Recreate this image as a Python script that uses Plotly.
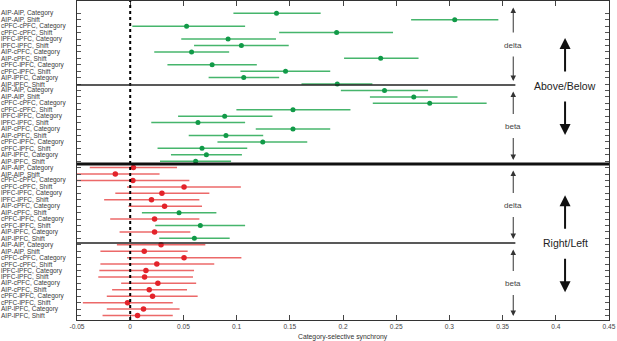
import plotly.graph_objects as go

# ---------------- data ----------------
pairs = ["AIP-AIP", "cPFC-cPFC", "lPFC-lPFC", "AIP-cPFC", "cPFC-lPFC", "AIP-lPFC"]
kinds = ["Category", "Shift"]
group_names = ["Above/Below delta", "Above/Below beta", "Right/Left delta", "Right/Left beta"]

ab_delta_est = [0.1375, 0.305, 0.053, 0.194, 0.092, 0.1045, 0.0577, 0.2354, 0.077, 0.146, 0.1067, 0.1946]
ab_delta_lo = [0.097, 0.264, 0.002, 0.140, 0.048, 0.060, 0.0226, 0.201, 0.035, 0.1036, 0.0737, 0.161]
ab_delta_hi = [0.179, 0.346, 0.108, 0.247, 0.137, 0.149, 0.093, 0.271, 0.119, 0.188, 0.140, 0.2276]

ab_beta_est = [0.239, 0.2665, 0.2815, 0.153, 0.0888, 0.0637, 0.153, 0.090, 0.1246, 0.0675, 0.0716, 0.0615]
ab_beta_lo = [0.198, 0.2253, 0.228, 0.0998, 0.045, 0.0198, 0.118, 0.055, 0.082, 0.0257, 0.0383, 0.028]
ab_beta_hi = [0.280, 0.3076, 0.335, 0.207, 0.1337, 0.108, 0.188, 0.125, 0.1664, 0.110, 0.105, 0.0948]

rl_delta_est = [0.003, -0.014, 0.0025, 0.0506, 0.0298, 0.020, 0.0323, 0.0459, 0.0229, 0.0659, 0.0229, 0.0603]
rl_delta_lo = [-0.038, -0.056, -0.052, -0.003, -0.014, -0.0245, -0.0016, 0.011, -0.0188, 0.0235, -0.010, 0.0273]
rl_delta_hi = [0.044, 0.0276, 0.0556, 0.104, 0.0744, 0.065, 0.0675, 0.081, 0.065, 0.108, 0.0565, 0.0935]

rl_beta_est = [0.029, 0.0132, 0.0506, 0.025, 0.0148, 0.0135, 0.026, 0.0179, 0.021, -0.0025, 0.0125, 0.0069]
rl_beta_lo = [-0.0125, -0.028, -0.003, -0.028, -0.029, -0.030, -0.0085, -0.017, -0.022, -0.0445, -0.022, -0.026]
rl_beta_hi = [0.0706, 0.054, 0.1045, 0.079, 0.060, 0.059, 0.062, 0.0534, 0.0634, 0.040, 0.0464, 0.040]

x_tickvals = [-0.05, 0, 0.05, 0.1, 0.15, 0.2, 0.25, 0.3, 0.35, 0.4, 0.45]
x_ticktext = ["-0.05", "0", "0.05", "0.1", "0.15", "0.2", "0.25", "0.3", "0.35", "0.4", "0.45"]

# ---------------- assemble ----------------
est = ab_delta_est + ab_beta_est + rl_delta_est + rl_beta_est
lo = ab_delta_lo + ab_beta_lo + rl_delta_lo + rl_beta_lo
hi = ab_delta_hi + ab_beta_hi + rl_delta_hi + rl_beta_hi
row_labels = [f"{p}, {k}" for _ in group_names for p in pairs for k in kinds]
rows = list(range(1, len(est) + 1))

GREEN_DOT, GREEN_LINE = "#119a48", "rgba(38,168,82,0.85)"
RED_DOT, RED_LINE = "#e3232a", "rgba(232,72,72,0.82)"
FONT = "Liberation Sans, Arial, sans-serif"

# pixel helpers for the layout (row k sits at 13.3 + (k-1)*6.43 px)
PLOT_TOP, PLOT_BOT = 1, 320
ROW0, ROWSTEP = 13.3, 6.43


def px2row(py):
    return 1 + (py - ROW0) / ROWSTEP


fig = go.Figure()

for sig, dot, line in [(True, GREEN_DOT, GREEN_LINE), (False, RED_DOT, RED_LINE)]:
    idx = [i for i in range(len(est)) if (lo[i] > 0) == sig]
    fig.add_trace(go.Scatter(
        x=[est[i] for i in idx],
        y=[rows[i] for i in idx],
        mode="markers",
        marker=dict(color=dot, size=5 if sig else 5.5),
        error_x=dict(type="data", symmetric=False,
                     array=[hi[i] - est[i] for i in idx],
                     arrayminus=[est[i] - lo[i] for i in idx],
                     color=line, thickness=1.5, width=0),
        showlegend=False,
        hoverinfo="skip",
    ))

shapes = [
    dict(type="line", xref="x", yref="paper", x0=0, x1=0, y0=0, y1=1,
         line=dict(color="black", width=2, dash="dot")),
    dict(type="line", xref="x", yref="y", x0=-0.05, x1=0.362, y0=px2row(85), y1=px2row(85),
         line=dict(color="#222", width=1.3)),
    dict(type="line", xref="paper", yref="y", x0=0, x1=1, y0=px2row(164), y1=px2row(164),
         line=dict(color="#111", width=3)),
    dict(type="line", xref="x", yref="y", x0=-0.05, x1=0.362, y0=px2row(243), y1=px2row(243),
         line=dict(color="#222", width=1.3)),
]

annotations = []
# left-aligned row labels
for r, lab in zip(rows, row_labels):
    annotations.append(dict(x=-77 / 532, xref="paper", y=r, yref="y", text=lab, showarrow=False,
                            xanchor="left", yanchor="middle", borderpad=0,
                            font=dict(family=FONT, size=6.5, color="#3a3a3a")))

# small band arrows
bands = [(PLOT_TOP, 85, "delta"), (85, 164, "beta"), (164, 243, "delta"), (243, PLOT_BOT, "beta")]
XA = 0.36
for top, bot, name in bands:
    mid = (top + bot) / 2 + 2
    annotations.append(dict(x=XA, y=px2row(mid), xref="x", yref="y", text=name, showarrow=False,
                            font=dict(family=FONT, size=8, color="#444")))
    annotations.append(dict(x=XA, y=px2row(top + 6.5), ax=XA, ay=px2row(mid - 11), xref="x", yref="y",
                            axref="x", ayref="y", text="", showarrow=True, arrowhead=2,
                            arrowsize=1.1, arrowwidth=1, arrowcolor="#333"))
    annotations.append(dict(x=XA, y=px2row(bot - 4), ax=XA, ay=px2row(mid + 10), xref="x", yref="y",
                            axref="x", ayref="y", text="", showarrow=True, arrowhead=2,
                            arrowsize=1.1, arrowwidth=1, arrowcolor="#333"))

# big arrows
XB = 0.4087
for center, name in [(86, "Above/Below"), (243.3, "Right/Left")]:
    annotations.append(dict(x=XB, y=px2row(center), xref="x", yref="y", text=name, showarrow=False,
                            font=dict(family=FONT, size=10.5, color="#222")))
    annotations.append(dict(x=XB, y=px2row(center - 48), ax=XB, ay=px2row(center - 13), xref="x",
                            yref="y", axref="x", ayref="y", text="", showarrow=True, arrowhead=2,
                            arrowsize=1.1, arrowwidth=2, arrowcolor="#111"))
    annotations.append(dict(x=XB, y=px2row(center + 49), ax=XB, ay=px2row(center + 14), xref="x",
                            yref="y", axref="x", ayref="y", text="", showarrow=True, arrowhead=2,
                            arrowsize=1.1, arrowwidth=2, arrowcolor="#111"))

# x title
annotations.append(dict(x=0.5, xref="paper", y=-17 / 319, yref="paper", text="Category-selective synchrony",
                        showarrow=False, xanchor="center", yanchor="middle",
                        font=dict(family=FONT, size=6.8, color="#333")))

fig.update_layout(
    width=617, height=341, autosize=False,
    margin=dict(l=77, r=8, t=PLOT_TOP, b=341 - PLOT_BOT, pad=0),
    paper_bgcolor="white", plot_bgcolor="white",
    font=dict(family=FONT, color="#333"),
    shapes=shapes, annotations=annotations,
    xaxis=dict(range=[-0.05, 0.45], tickvals=x_tickvals, ticktext=x_ticktext,
               ticks="inside", ticklen=5, tickcolor="#444", tickwidth=1,
               showline=True, linecolor="#333", linewidth=1, mirror="ticks",
               showgrid=False, zeroline=False,
               tickfont=dict(family=FONT, size=6.6, color="#444")),
    yaxis=dict(range=[px2row(PLOT_BOT), px2row(PLOT_TOP)], tickvals=rows,
               ticks="inside", ticklen=4, tickcolor="#555", tickwidth=1,
               showticklabels=False, automargin=False,
               showline=True, linecolor="#333", linewidth=1, mirror="ticks",
               showgrid=False, zeroline=False),
)

fig.write_html("out.html", config={"displayModeBar": False, "staticPlot": True})

# remove the browser's default body margin so the figure sits at the page origin
with open("out.html", "r", encoding="utf-8") as fh:
    html = fh.read()
html = html.replace("<head>", "<head><style>html,body{margin:0;padding:0;overflow:hidden;}</style>", 1)
with open("out.html", "w", encoding="utf-8") as fh:
    fh.write(html)
